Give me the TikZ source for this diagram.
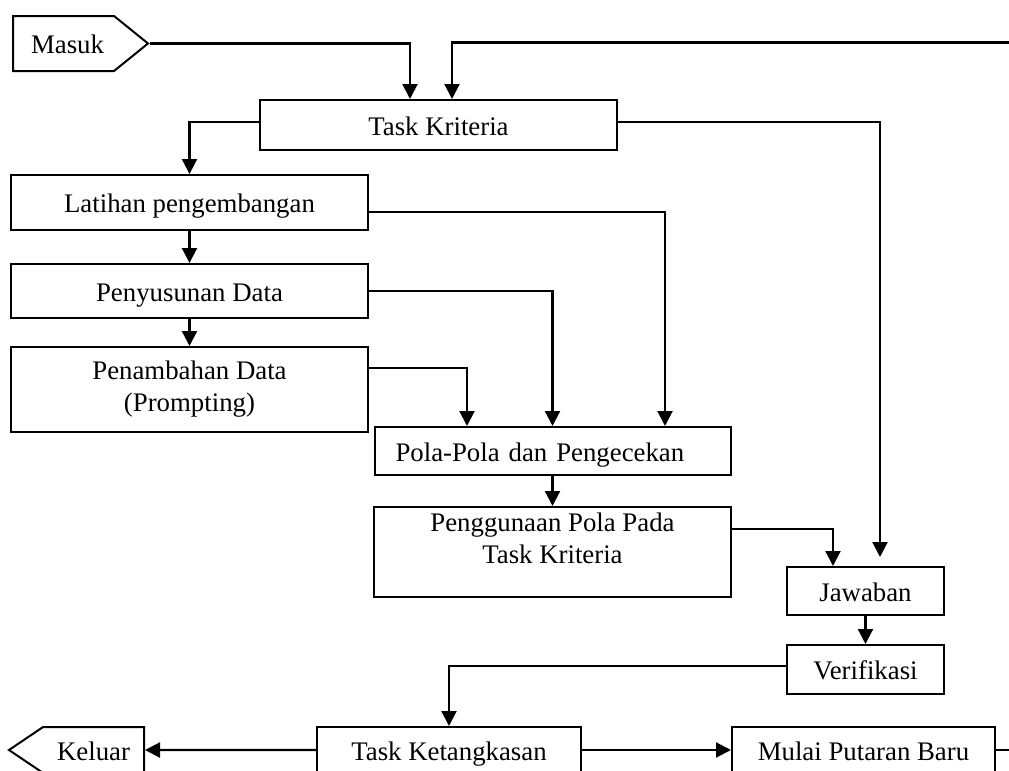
\documentclass[tikz,border=0pt]{standalone}
\usepackage{fontspec}
\setmainfont{Liberation Serif}
\usetikzlibrary{arrows.meta,positioning,calc,shapes.symbols}

\begin{document}
\begin{tikzpicture}[
    x=0.5pt, y=-0.5pt,
    font=\fontsize{13.4}{16}\selectfont,
    >={Triangle[length=7.5pt,width=7.5pt]},
    box/.style={draw, line width=1pt, align=center, inner sep=2pt,
                text height=11pt, text depth=1pt},
    wide/.style={box, minimum width=178.5pt},
    small/.style={box, minimum width=78.5pt, minimum height=24pt},
    row/.style={box, minimum height=23pt},
    term/.style={draw, line width=1pt, signal, inner sep=2pt,
                 text height=11pt, text depth=1pt},
    flow/.style={->, line width=1.1pt},
    node distance=14pt,
]
\useasboundingbox (0,0) rectangle (1009,771);
\clip (0,0) rectangle (1009,771);

% --- entry and criteria ---
\node[term, signal to=east, signal pointer angle=78, minimum width=67.5pt,
      minimum height=27.5pt, anchor=west] (masuk) at (12,43.5) {\hspace*{4pt}Masuk};
\node[box, minimum width=178.5pt, minimum height=25pt] (kriteria) at (438.5,125) {Task Kriteria};

% --- left column: training steps ---
\node[wide, minimum height=27.5pt] (latihan) at (189.5,202.5) {Latihan pengembangan};
\node[wide, minimum height=27pt, below=16pt of latihan]     (penyusunan) {Penyusunan Data};
\node[wide, minimum height=42.5pt, text height=25pt, text depth=3pt,
      below=13.5pt of penyusunan] (penambahan) {Penambahan Data\\(Prompting)};

% --- middle column: patterns ---
\node[box, text width=157pt, align=left, inner xsep=10.5pt, minimum height=24pt]
      (pola) at (552.5,451) {Pola-Pola dan Pengecekan};
\node[wide, minimum height=45pt, inner ysep=0pt, text height=28pt, text depth=17pt,
      below=15pt of pola] (penggunaan) {Penggunaan Pola Pada\\Task Kriteria};

% --- right column: answer and check ---
\node[small] (jawaban) at (865.5,591) {Jawaban};
\node[small, minimum height=24.5pt, below=14pt of jawaban] (verifikasi) {Verifikasi};

% --- bottom row ---
\node[row, minimum width=132pt] (ketangkasan) at (449,750) {Task Ketangkasan};
\node[term, signal to=west, signal pointer angle=68, minimum width=67.5pt,
      minimum height=23pt, left=85.5pt of ketangkasan] (keluar) {Keluar};
\node[row, minimum width=131.5pt, right=74.5pt of ketangkasan] (mulai) {Mulai Putaran Baru};

% top inputs into Task Kriteria (the new round comes back round the right edge)
\coordinate (kembali) at ($(kriteria.north)+(13.5,-56.5)$);
\draw[flow] (masuk.east) -| ($(kriteria.north)+(-28.5,0)$);
\draw[flow] (mulai.east) -- ++(40,0) |- (kembali) -- (kembali |- kriteria.north);

% Task Kriteria branches out
\draw[flow] ($(kriteria.west)+(0,-3)$) -| (latihan.north);
\draw[flow, shorten >=4.5pt] ($(kriteria.east)+(0,-3)$) -| ($(jawaban.north)+(14.5,0)$);

% left column chain
\draw[flow] (latihan) -- (penyusunan);
\draw[flow] (penyusunan) -- (penambahan);

% each step feeds the patterns box
\draw[flow] ($(latihan.east)+(0,9.5)$) -| ($(pola.north)+(112.5,0)$);
\draw[flow] (penyusunan.east) -| (pola.north);
\draw[flow] ($(penambahan.east)+(0,-21.5)$) -| ($(pola.north)+(-85.5,0)$);
\draw[flow] (pola.south) -- (pola.south |- penggunaan.north);

% towards the answer
\draw[flow] ($(penggunaan.east)+(0,-23)$) -| ($(jawaban.north)+(-32.5,0)$);
\draw[flow] (jawaban) -- (verifikasi);
\draw[flow] ($(verifikasi.west)+(0,-3.5)$) -| (ketangkasan.north);

% exit or new round
\draw[flow] (ketangkasan) -- (keluar);
\draw[flow] (ketangkasan) -- (mulai);

\end{tikzpicture}
\end{document}
